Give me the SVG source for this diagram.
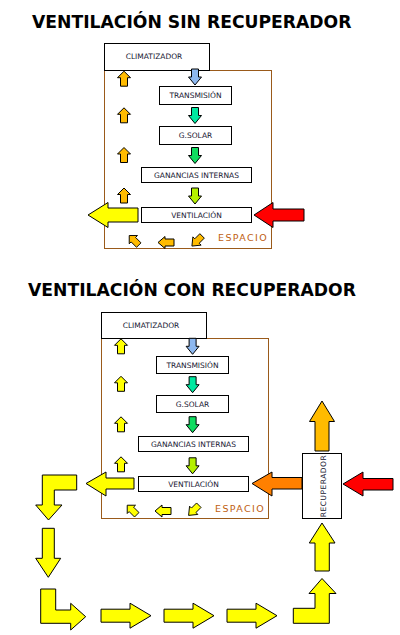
<svg xmlns="http://www.w3.org/2000/svg" width="400" height="635" viewBox="0 0 400 635">
<style>
.title{font-family:"DejaVu Sans",Verdana,sans-serif;font-weight:bold;font-size:17.2px;fill:#000}
.lbl{font-family:"DejaVu Sans",Verdana,sans-serif;font-size:7.5px;fill:#151530;text-anchor:middle}
.esp{font-family:"DejaVu Sans",Verdana,sans-serif;font-size:9.5px;letter-spacing:1.4px;fill:#C06010}
.box{fill:#fff;stroke:#000;stroke-width:1}
.space{fill:none;stroke:#9A5A1A;stroke-width:1}
.ar{stroke:#000;stroke-width:1;stroke-linejoin:miter}
.y{fill:#FFFF00}.o{fill:#FFBB00}.r{fill:#FF0000}.or{fill:#FF8000}
.bl{fill:#8DB8F0}.tl{fill:#00E8A0}.gr{fill:#10DC60}.yg{fill:#B4F000}
</style>
<defs>
<path id="dn" d="M-3.5,-8 L3.5,-8 L3.5,0 L6.5,0 L0,8 L-6.5,0 L-3.5,0 Z"/>
<path id="up" d="M0,-7.5 L6.5,-1 L3.5,-1 L3.5,7.5 L-3.5,7.5 L-3.5,-1 L-6.5,-1 Z"/>
<path id="lf" d="M-8,0 L-1,-6 L-1,-3.5 L8,-3.5 L8,3.5 L-1,3.5 L-1,6 Z"/>
<path id="rt" d="M0,-6.5 L29,-6.5 L29,-12.5 L50,0 L29,12.5 L29,6.5 L0,6.5 Z"/>
</defs>

<text class="title" x="32" y="28">VENTILACIÓN SIN RECUPERADOR</text>
<text class="title" x="28" y="296">VENTILACIÓN CON RECUPERADOR</text>

<!-- Top diagram -->
<g id="espacio1">
<rect class="space" x="104.5" y="70.5" width="167" height="178"/>
<text class="esp" x="218" y="241">ESPACIO</text>
</g>
<g id="climatizador1"><rect class="box" x="104.5" y="43.5" width="105" height="27"/><text class="lbl" x="154" y="59">CLIMATIZADOR</text></g>
<g id="transmision1"><rect class="box" x="159.5" y="86.5" width="72" height="18"/><text class="lbl" x="195.5" y="98">TRANSMISIÓN</text></g>
<g id="gsolar1"><rect class="box" x="159.5" y="126.5" width="72" height="18"/><text class="lbl" x="195.5" y="138">G.SOLAR</text></g>
<g id="ganancias1"><rect class="box" x="141.5" y="167.5" width="110" height="15"/><text class="lbl" x="196.5" y="178">GANANCIAS INTERNAS</text></g>
<g id="ventilacion1"><rect class="box" x="141.5" y="207.5" width="110" height="15"/><text class="lbl" x="196.5" y="218">VENTILACIÓN</text></g>

<g id="connectors1">
<use href="#dn" class="ar bl" transform="translate(195,77)"/>
<use href="#dn" class="ar tl" transform="translate(195,115.5)"/>
<use href="#dn" class="ar gr" transform="translate(195,155.5)"/>
<use href="#dn" class="ar yg" transform="translate(195,196)"/>
<use href="#up" class="ar o" transform="translate(124,78.7)"/>
<use href="#up" class="ar o" transform="translate(124,115.3)"/>
<use href="#up" class="ar o" transform="translate(124,155)"/>
<use href="#up" class="ar o" transform="translate(124,195.5)"/>
<use href="#up" class="ar o" transform="translate(134,240.3) rotate(-45) scale(0.9)"/>
<use href="#lf" class="ar o" transform="translate(166,242.5)"/>
<use href="#dn" class="ar o" transform="translate(197,241) rotate(45) scale(0.9)"/>
<path class="ar y" d="M88,215 L108,202.5 L108,208 L138,208 L138,222 L108,222 L108,227.5 Z"/>
<path class="ar r" d="M254,215 L273,202.5 L273,209 L304,209 L304,221 L273,221 L273,227.5 Z"/>
</g>

<!-- Bottom diagram -->
<g id="espacio2">
<rect class="space" x="101.5" y="338.5" width="167" height="180"/>
<text class="esp" x="215" y="512">ESPACIO</text>
</g>
<g id="climatizador2"><rect class="box" x="101.5" y="312.5" width="105" height="26"/><text class="lbl" x="151" y="328">CLIMATIZADOR</text></g>
<g id="transmision2"><rect class="box" x="156.5" y="356.5" width="72" height="17"/><text class="lbl" x="192.5" y="367.8">TRANSMISIÓN</text></g>
<g id="gsolar2"><rect class="box" x="156.5" y="395.5" width="72" height="17"/><text class="lbl" x="192.5" y="406.8">G.SOLAR</text></g>
<g id="ganancias2"><rect class="box" x="138.5" y="436.5" width="110" height="15"/><text class="lbl" x="193.5" y="446.8">GANANCIAS INTERNAS</text></g>
<g id="ventilacion2"><rect class="box" x="138.5" y="476.5" width="110" height="15"/><text class="lbl" x="193.5" y="486.8">VENTILACIÓN</text></g>
<g id="recuperador"><rect class="box" x="302.5" y="453.5" width="39" height="65"/><text class="lbl" style="letter-spacing:0.5px" transform="translate(325.5,486) rotate(-90)">RECUPERADOR</text></g>

<g id="connectors2">
<use href="#dn" class="ar bl" transform="translate(192.6,346.3)"/>
<use href="#dn" class="ar tl" transform="translate(192.6,384.7)"/>
<use href="#dn" class="ar gr" transform="translate(192.6,424.7)"/>
<use href="#dn" class="ar yg" transform="translate(192.6,465.8)"/>
<use href="#up" class="ar y" transform="translate(121,346.3)"/>
<use href="#up" class="ar y" transform="translate(121,383.8)"/>
<use href="#up" class="ar y" transform="translate(121,424.3)"/>
<use href="#up" class="ar y" transform="translate(121,464.3)"/>
<use href="#up" class="ar y" transform="translate(132,510) rotate(-45) scale(0.9)"/>
<use href="#lf" class="ar y" transform="translate(163,511)"/>
<use href="#dn" class="ar y" transform="translate(193.7,510.3) rotate(45) scale(0.9)"/>
<path class="ar y" d="M86,483.5 L106,472 L106,478 L134,478 L134,489 L106,489 L106,496 Z"/>
<path class="ar or" d="M252,483.5 L272,472 L272,477.5 L302,477.5 L302,489 L272,489 L272,496 Z"/>
<path class="ar r" d="M343,484 L363,472 L363,478.5 L393,478.5 L393,490 L363,490 L363,496 Z"/>
<path class="ar o" d="M322,401 L334.5,421.5 L329,421.5 L329,451 L315,451 L315,421.5 L309.5,421.5 Z"/>
<path class="ar y" d="M322,523 L335,543 L329.3,543 L329.3,571 L315,571 L315,543 L309.3,543 Z"/>
<path class="ar y" d="M322,578.5 L336,593.5 L329.3,593.5 L329.3,623.3 L293.3,623.3 L293.3,608.3 L315,608.3 L315,593.5 L309,593.5 Z"/>
<path class="ar y" d="M42.3,475 L76.7,475 L76.7,490 L54.3,490 L54.3,505 L62,505 L48.5,520 L35.7,505 L42.3,505 Z"/>
<path class="ar y" d="M42.3,528.3 L54.3,528.3 L54.3,558.3 L60.7,558.3 L48.3,577.3 L35.7,558.3 L42.3,558.3 Z"/>
<path class="ar y" d="M40.7,589 L55.7,589 L55.7,610 L70.7,610 L70.7,603.3 L85.7,616.7 L70.7,630 L70.7,623.3 L40.7,623.3 Z"/>
<use href="#rt" class="ar y" transform="translate(101,615.7)"/>
<use href="#rt" class="ar y" transform="translate(164,615.7)"/>
<use href="#rt" class="ar y" transform="translate(227,615.7)"/>
</g>
</svg>
